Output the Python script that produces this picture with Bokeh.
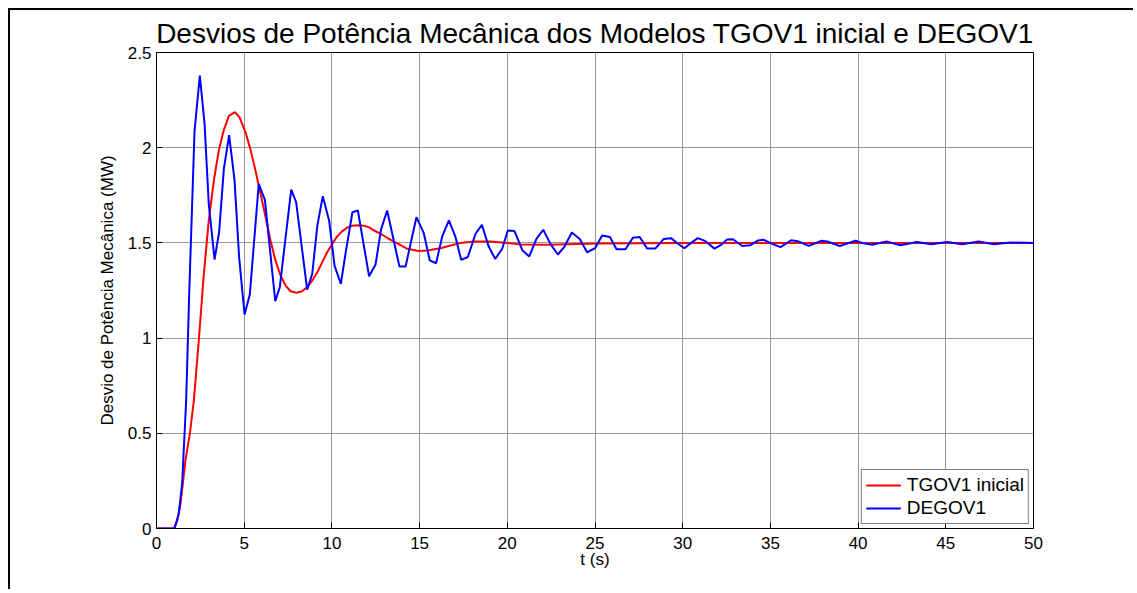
from bokeh.plotting import figure
from bokeh.models import FixedTicker, Legend, LegendItem
from bokeh.embed import file_html
from bokeh.resources import INLINE

# ---- data ----
t_tgov = [0, 1.0, 1.18, 1.37, 1.65, 1.90, 2.13, 2.41, 2.70, 2.98,
          3.27, 3.55, 3.84, 4.13, 4.47, 4.73, 5.07, 5.32, 5.60, 5.89,
          6.18, 6.50, 6.78, 7.07, 7.36, 7.64, 7.98, 8.30, 8.59, 8.88,
          9.17, 9.45, 9.73, 10.02, 10.30, 10.59, 10.87, 11.16, 11.48, 11.82,
          12.11, 12.40, 12.78, 13.15, 13.53, 13.91, 14.29, 14.95, 15.43, 16.19,
          17.33, 18.09, 19.04, 19.99, 20.75, 22.27, 23.41, 25.12, 30.0, 50.0]
p_tgov = [0, 0, 0.04, 0.13, 0.357, 0.497, 0.672, 0.987, 1.338, 1.618,
          1.828, 1.985, 2.094, 2.167, 2.187, 2.160, 2.082, 2.003, 1.898, 1.775,
          1.653, 1.513, 1.408, 1.329, 1.276, 1.246, 1.238, 1.246, 1.268, 1.302,
          1.346, 1.399, 1.451, 1.495, 1.534, 1.562, 1.580, 1.590, 1.593, 1.590,
          1.583, 1.565, 1.548, 1.527, 1.507, 1.489, 1.469, 1.457, 1.460, 1.472,
          1.500, 1.507, 1.507, 1.500, 1.491, 1.490, 1.493, 1.497, 1.5, 1.5]

t_degov = [0, 1.03, 1.27, 1.46, 1.69, 1.87, 2.17, 2.47, 2.74, 2.98,
           3.31, 3.57, 3.84, 4.14, 4.45, 4.71, 5.02, 5.32, 5.83, 6.18,
           6.77, 7.03, 7.68, 7.96, 8.59, 8.88, 9.17, 9.48, 9.84, 10.15,
           10.51, 10.77, 11.17, 11.48, 12.12, 12.49, 12.80, 13.15, 13.85, 14.20,
           14.82, 15.24, 15.58, 15.94, 16.29, 16.67, 17.05, 17.37, 17.75, 18.19,
           18.55, 18.95, 19.31, 19.71, 20.03, 20.41, 20.87, 21.25, 21.66, 22.05,
           22.46, 22.88, 23.26, 23.68, 24.13, 24.55, 24.99, 25.41, 25.85, 26.23,
           26.74, 27.16, 27.55, 27.97, 28.45, 28.92, 29.34, 29.69, 30.10, 30.48,
           30.86, 31.30, 31.81, 32.19, 32.53, 32.87, 33.39, 33.86, 34.28, 34.63,
           35.10, 35.58, 36.18, 36.56, 37.19, 37.89, 38.24, 38.96, 39.85, 40.23,
           40.80, 41.62, 42.42, 43.36, 44.16, 45.08, 45.93, 46.88, 47.73, 48.69,
           50.0]
p_degov = [0, 0, 0.077, 0.235, 0.67, 1.25, 2.09, 2.379, 2.125, 1.705,
           1.413, 1.556, 1.889, 2.066, 1.828, 1.425, 1.124, 1.229, 1.810, 1.726,
           1.194, 1.268, 1.780, 1.714, 1.254, 1.338, 1.591, 1.745, 1.618, 1.381,
           1.285, 1.44, 1.661, 1.670, 1.325, 1.387, 1.570, 1.670, 1.376, 1.376,
           1.635, 1.551, 1.408, 1.393, 1.534, 1.618, 1.530, 1.411, 1.426, 1.548,
           1.595, 1.478, 1.416, 1.469, 1.565, 1.562, 1.460, 1.429, 1.521, 1.569,
           1.495, 1.439, 1.481, 1.555, 1.521, 1.451, 1.471, 1.539, 1.531, 1.467,
           1.467, 1.527, 1.531, 1.471, 1.471, 1.521, 1.525, 1.498, 1.472, 1.500,
           1.525, 1.509, 1.470, 1.490, 1.518, 1.519, 1.484, 1.488, 1.512, 1.516,
           1.495, 1.478, 1.514, 1.509, 1.484, 1.511, 1.507, 1.484, 1.511, 1.500,
           1.490, 1.507, 1.488, 1.505, 1.493, 1.505, 1.493, 1.507, 1.493, 1.502,
           1.500]

x_ticks = [0, 5, 10, 15, 20, 25, 30, 35, 40, 45, 50]
y_ticks = [0, 0.5, 1, 1.5, 2, 2.5]
y_tick_labels = ["0", "0.5", "1", "1.5", "2", "2.5"]
series_names = ["TGOV1 inicial", "DEGOV1"]

FONT = "Liberation Sans"

p = figure(width=1125, height=581, output_backend="svg", toolbar_location=None,
           x_range=(0, 50), y_range=(0, 2.5),
           min_border_left=146, min_border_right=102, min_border_top=42, min_border_bottom=63,
           title="Desvios de Potência Mecânica dos Modelos TGOV1 inicial e DEGOV1")
p.styles = {"margin-left": "8px", "margin-top": "8px",
            "border-left": "2px solid black", "border-top": "2px solid black"}

p.title.align = "center"
p.title.text_font = FONT
p.title.text_font_size = "28px"
p.title.text_font_style = "normal"
p.title.text_color = "black"
p.title.standoff = 8

p.outline_line_color = "black"
p.outline_line_width = 1
p.background_fill_color = "white"
p.border_fill_color = "white"

for ax in (p.xaxis[0], p.yaxis[0]):
    ax.major_tick_in = 6
    ax.major_tick_out = 0
    ax.minor_tick_in = 0
    ax.minor_tick_out = 0
    ax.axis_line_color = "black"
    ax.major_tick_line_color = "black"
    ax.major_label_text_font = FONT
    ax.major_label_text_font_size = "17px"
    ax.major_label_text_color = "black"
    ax.axis_label_text_font = FONT
    ax.axis_label_text_font_size = "17px"
    ax.axis_label_text_font_style = "normal"
    ax.axis_label_text_color = "black"

p.xaxis.ticker = FixedTicker(ticks=x_ticks)
p.yaxis.ticker = FixedTicker(ticks=y_ticks)
p.yaxis.major_label_overrides = {v: s for v, s in zip(y_ticks, y_tick_labels)}
p.xaxis.axis_label = "t (s)"
p.yaxis.axis_label = "Desvio de Potência Mecânica (MW)"
p.xaxis.major_label_standoff = 8
p.xaxis.axis_label_standoff = -2
p.yaxis.major_label_standoff = 5
p.yaxis.axis_label_standoff = 8

p.grid.grid_line_color = "#999999"
p.grid.grid_line_width = 1
p.xgrid.ticker = FixedTicker(ticks=x_ticks)
p.ygrid.ticker = FixedTicker(ticks=y_ticks)

r1 = p.line(t_tgov, p_tgov, line_color="#ff0000", line_width=2)
r2 = p.line(t_degov, p_degov, line_color="#0000ff", line_width=2)

legend = Legend(items=[LegendItem(label=series_names[0], renderers=[r1]),
                       LegendItem(label=series_names[1], renderers=[r2])],
                location="bottom_right")
legend.margin = 4
legend.padding = 4
legend.spacing = 1
legend.label_height = 20
legend.glyph_height = 20
legend.glyph_width = 35
legend.label_standoff = 6
legend.label_text_font = FONT
legend.label_text_font_size = "19px"
legend.label_text_color = "black"
legend.border_line_color = "black"
legend.border_line_width = 1
legend.background_fill_color = "white"
legend.background_fill_alpha = 1
p.add_layout(legend, "center")

open("out.html", "w").write(file_html(p, INLINE))
